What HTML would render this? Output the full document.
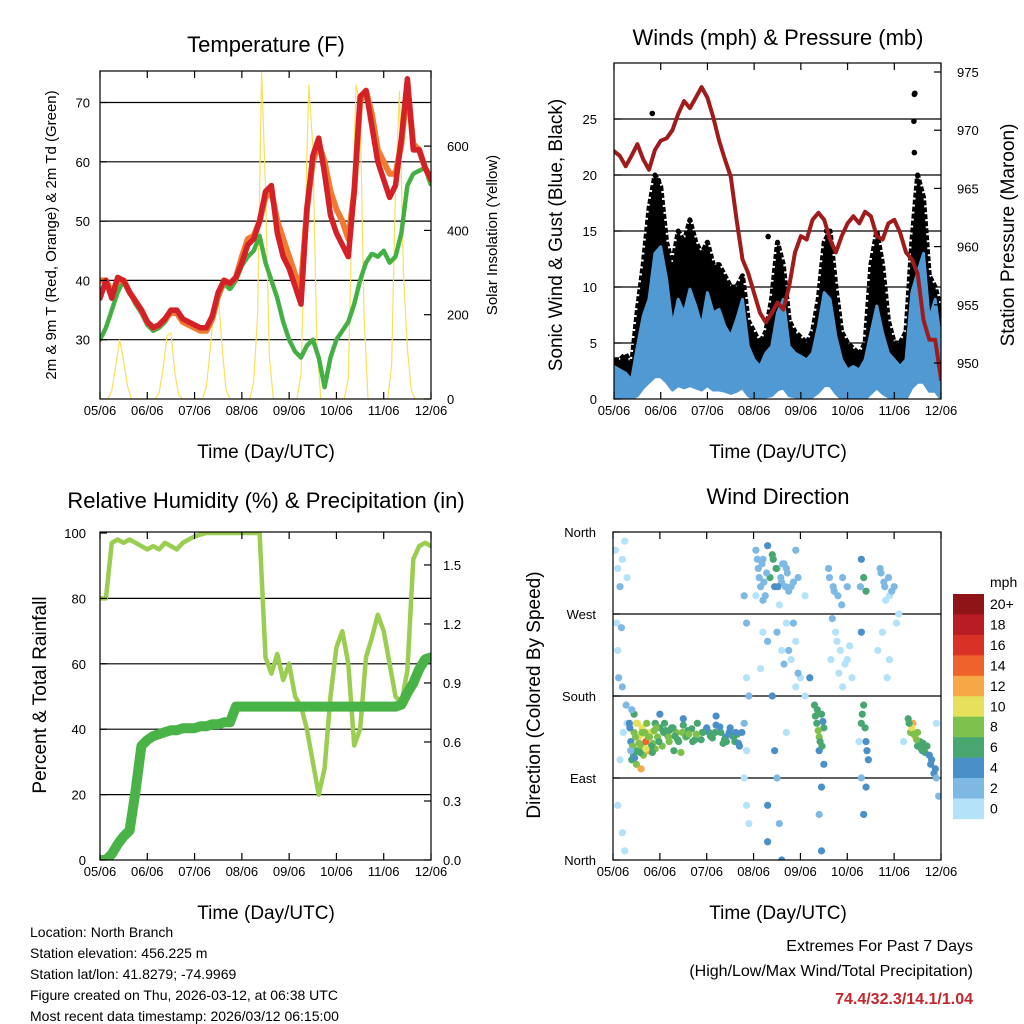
<!DOCTYPE html>
<html><head><meta charset="utf-8">
<style>
body{margin:0;background:#fff;}
svg{display:block;font-family:"Liberation Sans",sans-serif;}
</style></head>
<body>
<svg id="s" width="1024" height="1024" viewBox="0 0 1024 1024">
<rect width="1024" height="1024" fill="#fff"/>
<g id="marks"></g>
<g id="frame" fill="none" stroke="#000" stroke-width="1.2">
 <rect x="100" y="71" width="331" height="328"/>
 <rect x="614" y="63" width="327" height="336"/>
 <rect x="100" y="532" width="331" height="328"/>
 <rect x="613" y="532" width="328" height="328"/>
</g>
<g font-size="22" text-anchor="middle">
 <text x="266" y="52">Temperature (F)</text>
 <text x="778" y="45">Winds (mph) &amp; Pressure (mb)</text>
 <text x="266" y="508">Relative Humidity (%) &amp; Precipitation (in)</text>
 <text x="778" y="504">Wind Direction</text>
</g>
<g font-size="19" text-anchor="middle">
 <text x="266" y="458">Time (Day/UTC)</text>
 <text x="778" y="458">Time (Day/UTC)</text>
 <text x="266" y="919">Time (Day/UTC)</text>
 <text x="778" y="919">Time (Day/UTC)</text>
 <text transform="translate(562,235) rotate(-90)">Sonic Wind &amp; Gust (Blue, Black)</text>
 <text transform="translate(1014,235) rotate(-90)">Station Pressure (Maroon)</text>
 <text transform="translate(46,695) rotate(-90)">Percent &amp; Total Rainfall</text>
 <text transform="translate(540,695) rotate(-90)">Direction (Colored By Speed)</text>
</g>
<g font-size="15" text-anchor="middle">
 <text transform="translate(56,235) rotate(-90)">2m &amp; 9m T (Red, Orange) &amp; 2m Td (Green)</text>
 <text transform="translate(497,235) rotate(-90)">Solar Insolation (Yellow)</text>
</g>
<g id="ticks"></g>
<g font-size="14">
 <text x="30" y="937">Location: North Branch</text>
 <text x="30" y="958">Station elevation: 456.225 m</text>
 <text x="30" y="979">Station lat/lon: 41.8279; -74.9969</text>
 <text x="30" y="1000">Figure created on Thu, 2026-03-12, at 06:38 UTC</text>
 <text x="30" y="1021">Most recent data timestamp: 2026/03/12 06:15:00</text>
</g>
<g font-size="16" text-anchor="end">
 <text x="973" y="951">Extremes For Past 7 Days</text>
 <text x="973" y="976">(High/Low/Max Wind/Total Precipitation)</text>
 <text x="973" y="1004" fill="#c0282d" font-weight="bold">74.4/32.3/14.1/1.04</text>
</g>
</svg>
<script>
// ---- data (3-hourly unless noted) ----
const dayLabels=["05/06","06/06","07/06","08/06","09/06","10/06","11/06","12/06"];
const tempRed=[37,40,37,40.5,40,38,36.5,35,33,32,32.5,33.5,35,35,33.5,33,32.5,32,32,34,38,40,39.5,40.5,43,46,47,50,55,56,48,44,42,39,36,52,61,64,58,51,48,46,44,55,71,72,66,60,57,54,56,64,74,62,62,59,57];
const tempOrange=[40,40,38,40,40,38,36.5,35,33,32,32.5,33.5,34.5,34.5,33,32.5,32,31.5,31.5,33.5,37.5,40,39.5,40.5,44,47,47.5,50,54,55,50,47,44,41,39,52,60,63,60,55,52,50,47,55,70,72,68,62,60,58,58,63,73,63,62,59,57];
const dewGreen=[30,32,35,38,40,38,36,34.5,32.5,31.5,32,33,34.5,34.5,33,32.5,32,32,32,33.5,37,39.5,38.5,40,42.5,44,45,47.5,43,40,37,33,30,28,27,29,30,27,22,27,30,31.5,33,36,40,43,44.5,44,45,43,44,48,56,58,58.5,59,56];
// solar, 2-hourly
const solar=[0,0,0,20,80,140,90,30,0,0,0,0, 0,0,0,15,70,150,157,60,10,0,0,0, 0,0,0,30,120,230,250,120,20,0,0,0, 0,0,0,40,200,778,500,100,0,0,0,0, 0,0,0,60,400,745,600,150,0,0,0,0, 0,0,0,50,450,745,700,200,0,0,0,0, 0,0,80,500,730,300,120,20,0,0,0,0, 0];
const windHi=[2.9,2.6,2.3,1.7,4.7,7.4,8.9,13,13.6,10.7,6.5,8.9,7.7,9.8,8.3,6.5,9.5,7.7,8,6.5,5.6,7.1,8.9,4.7,3.5,2.9,4.1,4.7,7.7,8.9,4.7,4.1,3.8,3.5,4.1,6.5,9.5,8.9,5.6,3.5,2.6,2.9,2.6,3.5,5.9,8.3,5.9,4.1,3.5,2.9,3.5,9.5,11.3,13,7.1,8.9,5];
const windLo=[0,0,0,0,0.3,1,1.5,2,2,1.5,0.8,1.2,1,1.2,1,0.8,1.2,0.8,0.8,0.7,0.5,0.7,1,0.3,0,0,0.2,0.3,0.8,1,0.3,0.2,0,0,0.2,0.6,1.2,1.2,0.5,0,0,0,0,0,0.5,1,0.5,0.2,0,0,0,1,1.5,1.5,0.7,0.7,0];
const gust=[3.5,3.5,4,3,8,12,17,20,19,14,12,15,14,16,14,13,14,12,12,11,10,10,11,7,6,5,6,9,14,12,7,6,5.5,5,6,9,14,15,10,6,5,4.5,4,5,12,15,12,7,5,5,6,14,20,18,11,10,8];
const gustOutDay=[0.82,6.43,6.44,6.42,6.43,0.95,3.3,4.55];
const gustOutVal=[25.5,27.2,27.3,24.8,22,19.5,14.5,15];
const pressure=[968.2,967.8,966.9,967.8,968.8,967.5,966.6,968.3,969.1,969.3,970,971.4,972.5,971.9,972.8,973.7,972.8,971.1,969.1,967.5,966,962.3,958.9,957.7,956,954.3,953.5,954.3,955.2,954.6,956.6,959.5,960.9,960.6,962.3,962.9,962.3,960.6,959.5,960.9,962,962.6,962,963,962.6,960.9,960.6,962,962.3,961.2,959.5,958.9,957.7,953.7,952,952,948.6];
const rh=[80,80,97,98,97,98,97,96,95,96,95,97,96,95,97,98,99,99.5,100,100,100,100,100,100,100,100,100,100,62,57,63,55,60,50,47,40,30,20,28,50,65,70,60,35,40,62,68,75,70,60,50,48,58,92,96,97,96];
const precip=[0,0,0.03,0.08,0.12,0.15,0.35,0.58,0.61,0.63,0.64,0.65,0.66,0.66,0.67,0.67,0.67,0.68,0.68,0.69,0.69,0.7,0.7,0.78,0.78,0.78,0.78,0.78,0.78,0.78,0.78,0.78,0.78,0.78,0.78,0.78,0.78,0.78,0.78,0.78,0.78,0.78,0.78,0.78,0.78,0.78,0.78,0.78,0.78,0.78,0.78,0.79,0.85,0.9,0.97,1.02,1.03];
// wind direction scatter: day, degrees, mph
const dirDay=[0.05,0.1,0.15,0.2,0.25,0.08,0.1,0.12,0.2,0.22,0.15,0.1,0.2,0.25,0.18,0.3,0.3,0.28,
0.35,0.38,0.4,0.45,0.5,0.55,0.6,0.62,0.65,0.7,0.72,0.75,0.8,0.85,0.9,0.95,1.0,1.05,1.1,1.15,1.2,1.25,1.3,1.35,1.4,1.5,1.55,1.6,1.7,1.8,1.9,2.0,2.1,2.2,2.3,2.4,2.5,2.6,2.65,2.7,0.5,0.6,0.45,1.0,1.5,2.2,0.4,0.55,0.65,0.9,1.2,1.45,1.75,2.05,2.35,2.55,
0.36,0.42,0.48,0.52,0.58,0.68,0.78,0.82,0.88,0.98,1.08,1.18,1.28,1.38,1.48,1.58,1.68,1.78,1.88,1.98,2.08,2.18,2.28,2.38,2.48,2.58,2.68,2.75,0.44,0.5,0.56,0.62,0.7,0.76,0.84,0.92,1.12,1.32,1.62,1.92,2.12,2.42,2.62,0.38,0.46,
2.8,2.85,2.85,2.9,2.8,2.85,2.8,2.85,2.9,
3.05,3.1,3.15,3.2,3.3,3.35,3.4,3.45,3.5,3.6,3.7,3.8,3.55,3.7,3.9,3.8,4.0,3.6,3.2,3.15,3.4,3.45,3.5,3.55,3.6,3.3,3.3,3.7,3.9,3.95,3.9,3.25,3.65,
3.08,3.12,3.18,3.22,3.28,3.42,3.48,3.52,3.58,3.62,3.68,3.72,3.75,3.85,3.05,3.2,3.3,3.5,3.65,3.75,3.85,3.95,
4.3,4.35,4.4,4.45,4.4,4.5,4.5,4.45,4.4,4.45,4.2,4.1,4.1,4.32,4.38,4.42,4.48,4.36,4.46,
4.6,4.7,4.8,4.9,4.75,4.85,5.0,5.1,4.9,5.0,4.65,4.62,4.72,4.78,4.82,4.95,5.05,4.68,4.88,
5.3,5.35,5.4,5.3,5.35,5.3,5.4,5.45,5.3,5.35,5.4,5.25,5.32,5.38,5.42,5.28,
5.7,5.8,5.9,5.75,5.9,6.0,5.85,6.1,5.72,5.78,5.82,5.88,5.95,5.65,6.05,
6.3,6.35,6.4,6.45,6.5,6.55,6.6,6.7,6.8,6.85,6.9,6.5,6.2,6.9,6.95,6.38,6.62,6.32,6.42,6.48,6.58,6.66,6.75,6.78,6.88];
const dirDeg=[340,320,300,330,350,260,230,200,190,140,110,60,30,10,255,310,150,170,
150,130,110,140,120,135,125,145,115,130,150,120,140,128,150,135,145,125,150,138,130,145,120,140,130,148,135,142,130,150,140,145,138,148,140,135,145,130,138,125,105,100,160,160,155,158,165,128,138,122,142,118,132,140,128,136,
145,125,135,150,118,140,135,125,142,130,140,135,145,132,140,136,144,138,132,142,136,140,146,132,140,136,128,140,115,150,128,140,122,135,118,145,142,136,138,140,134,130,140,120,112,
290,260,200,180,150,120,90,60,40,
340,320,300,330,345,310,335,300,320,305,320,300,280,260,240,220,200,230,250,210,180,120,90,40,0,60,20,140,190,310,340,290,325,
330,310,325,305,315,330,320,300,310,325,300,315,295,305,290,285,240,250,215,230,260,205,
170,150,135,160,120,145,105,80,50,10,200,290,180,158,142,130,152,165,125,
320,300,290,310,250,230,220,200,190,300,220,310,295,240,205,215,235,265,280,
330,310,295,250,170,150,130,110,90,50,80,130,160,145,120,300,
320,300,290,250,220,300,200,270,315,305,285,310,295,230,260,
155,140,150,135,125,130,120,125,110,95,90,140,130,150,70,145,128,150,138,132,122,118,115,105,100];
const dirSpd=[1,1,2,1,1,1,1,2,2,1,1,1,1,1,3,1,1,2,
4,5,6,8,7,10,9,11,8,14,9,12,10,8,7,9,6,8,6,7,8,6,7,8,6,7,8,6,7,6,8,5,6,5,6,5,4,7,6,5,9,12,6,4,4,4,3,12,10,9,7,8,6,7,6,5,
5,8,9,10,7,8,9,6,8,7,6,8,7,6,8,7,6,8,7,5,6,7,5,6,4,6,5,4,7,11,8,9,10,8,7,9,7,6,8,6,7,6,5,3,4,
2,3,1,2,2,1,1,1,1,
2,2,3,2,4,6,6,4,3,2,3,2,1,1,0,0,0,1,1,1,4,4,3,3,4,4,4,1,1,2,2,3,2,
2,2,3,2,3,6,7,4,3,2,3,2,2,3,1,2,2,3,2,3,2,3,
6,7,8,6,5,6,4,4,3,4,4,1,1,7,8,6,5,6,7,
2,2,2,3,0,0,0,1,0,2,1,2,3,0,1,0,0,2,2,
4,7,6,4,6,7,5,4,3,4,4,1,6,7,5,3,
2,2,1,1,1,2,1,1,2,2,1,2,2,1,1,
6,8,12,10,7,6,5,6,4,4,3,9,0,1,2,11,7,6,8,9,7,6,5,4,4];
const cbLabels=["20+","18","16","14","12","10","8","6","4","2","0"];
const cbColors=["#8e1418","#b91c24","#da3127","#f0622b","#f6a847","#e6e05a","#7dc14c","#48a670","#4a8fc8","#7eb9e4","#b4e2f8"];
const tempTicks=[30,40,50,60,70], solarTicks=[0,200,400,600];
const windTicks=[0,5,10,15,20,25], presTicks=[950,955,960,965,970,975];
const rhTicks=[0,20,40,60,80,100], prTicks=[0,0.3,0.6,0.9,1.2,1.5];
const dirTickLabels=["North","East","South","West","North"], dirTickVals=[0,90,180,270,360];

// ---- scales ----
const NS="http://www.w3.org/2000/svg";
const marks=document.getElementById('marks'), ticks=document.getElementById('ticks');
function mk(tag,attrs,parent){const e=document.createElementNS(NS,tag);for(const k in attrs)e.setAttribute(k,attrs[k]);(parent||marks).appendChild(e);return e;}
const P1={x0:100,x1:431}, P2={x0:614,x1:941}, P3={x0:100,x1:431}, P4={x0:613,x1:941};
const tx=(P,d)=>P.x0+d*(P.x1-P.x0)/7;
const yTemp=v=>399-(v-20)*5.93, ySolar=v=>399-v*0.4215;
const yWind=v=>399-v*11.2, yPres=v=>363-(v-950)*11.64;
const yRH=v=>860-v*3.27, yPr=v=>860-v*196.7;
const yDir=v=>860-v*328/360;
function pts(P,arr,step,ys){return arr.map((v,i)=>tx(P,i*step/24).toFixed(1)+','+ys(v).toFixed(1)).join(' ');}
function line(P,arr,step,ys,color,w,name,dash){const e=mk('polyline',{points:pts(P,arr,step,ys),fill:'none',stroke:color,'stroke-width':w,'stroke-linejoin':'round','stroke-linecap':'round'});if(dash)e.setAttribute('stroke-dasharray',dash);

return e;}
function clip(id,x,y,w,h){const c=mk('clipPath',{id:id});mk('rect',{x:x,y:y,width:w,height:h},c);}
clip('c1',100,71,331,328);clip('c2',614,63,327,336);clip('c3',100,532,331,328);clip('c4',613,532,328,328);

function hgrid(x0,x1,vals,ys,name,color){vals.forEach(v=>{const e=mk('line',{x1:x0,x2:x1,y1:ys(v),y2:ys(v),stroke:color||'#000','stroke-width':1.2});

});}
hgrid(100,431,tempTicks,yTemp,'temperature-gridline');
hgrid(614,941,windTicks.slice(1),yWind,'wind-gridline');
hgrid(100,431,rhTicks.slice(1,5),yRH,'humidity-gridline');
hgrid(613,941,[90,180,270],yDir,'direction-gridline');

// panel 1
let g1=mk('g',{'clip-path':'url(#c1)'});
g1.appendChild(line(P1,solar,2,ySolar,'#f7e15a',1.2,'solar-line'));
g1.appendChild(line(P1,dewGreen,3,yTemp,'#44b044',4.5,'dewpoint-line','3 1.5'));
g1.appendChild(line(P1,tempOrange,3,yTemp,'#f07a30',6,'temp-9m-line'));
g1.appendChild(line(P1,tempRed,3,yTemp,'#d42027',5.5,'temp-2m-line'));

// panel 2
let g2=mk('g',{'clip-path':'url(#c2)'});
let gp=gust.map((v,i)=>tx(P2,i*3/24).toFixed(1)+','+yWind(v).toFixed(1)).join(' ')+' '+windHi.map((v,i)=>tx(P2,i*3/24).toFixed(1)+','+yWind(v).toFixed(1)).reverse().join(' ');
let e=mk('polygon',{points:gp,fill:'#000',stroke:'#000','stroke-width':5,'stroke-linejoin':'round','stroke-dasharray':'5 2'},g2);


gustOutDay.forEach((d,i)=>{const c=mk('circle',{cx:tx(P2,d),cy:yWind(gustOutVal[i]),r:2.8,fill:'#000'},g2);

});
let bp=windHi.map((v,i)=>tx(P2,i*3/24).toFixed(1)+','+yWind(v).toFixed(1)).join(' ')+' '+windLo.map((v,i)=>tx(P2,i*3/24).toFixed(1)+','+yWind(v).toFixed(1)).reverse().join(' ');
e=mk('polygon',{points:bp,fill:'#5199d3',stroke:'#5199d3','stroke-width':3,'stroke-linejoin':'round'},g2);


g2.appendChild(line(P2,pressure,3,yPres,'#a01c1c',4,'pressure-line'));

// panel 3
let g3=mk('g',{'clip-path':'url(#c3)'});
g3.appendChild(line(P3,rh,3,yRH,'#9acd50',4.5,'humidity-line'));
g3.appendChild(line(P3,precip,3,yPr,'#4ab348',10,'precip-line'));

// panel 4
let g4=mk('g',{'clip-path':'url(#c4)'});
dirDay.forEach((d,i)=>{const sp=dirSpd[i];const idx=10-Math.min(10,Math.floor(sp/2));
const c=mk('circle',{cx:tx(P4,d),cy:yDir(dirDeg[i]),r:3.6,fill:cbColors[idx]},g4);

});
cbLabels.forEach((l,i)=>{const y=594+i*20.45;
const r=mk('rect',{x:953,y:y,width:31,height:20.7,fill:cbColors[i]});


const t=mk('text',{x:990,y:y+15,'font-size':14});t.textContent=l;

});
e=mk('text',{x:990,y:587,'font-size':14});e.textContent='mph';



function xt(P,yb,yt){dayLabels.forEach((l,i)=>{const x=tx(P,i);
mk('line',{x1:x,x2:x,y1:yb,y2:yb-7,stroke:'#000','stroke-width':1.2},ticks);
mk('line',{x1:x,x2:x,y1:yt,y2:yt+7,stroke:'#000','stroke-width':1.2},ticks);
const t=mk('text',{x:x,y:yb+16,'font-size':13,'text-anchor':'middle'},ticks);t.textContent=l;

});}
xt(P1,399,71);xt(P2,399,63);xt(P3,860,532);xt(P4,860,532);
function yt(vals,ys,x,anchor,tx0,dir,fmt){vals.forEach(v=>{const y=ys(v);
mk('line',{x1:tx0,x2:tx0+dir*7,y1:y,y2:y,stroke:'#000','stroke-width':1.2},ticks);
const t=mk('text',{x:x,y:y+5,'font-size':13,'text-anchor':anchor},ticks);t.textContent=fmt?fmt(v):v;

});}
yt(tempTicks,yTemp,90,'end',100,1);
yt(solarTicks,ySolar,447,'start',431,-1);
yt(windTicks,yWind,597,'end',614,1);
yt(presTicks,yPres,957,'start',941,-1);
yt(rhTicks,yRH,86,'end',100,1);
yt(prTicks,yPr,443,'start',431,-1,v=>v.toFixed(1));
dirTickVals.forEach((v,i)=>{const y=yDir(v);
mk('line',{x1:613,x2:620,y1:y,y2:y,stroke:'#000','stroke-width':1.2},ticks);
const t=mk('text',{x:596,y:y+5,'font-size':13,'text-anchor':'end'},ticks);t.textContent=dirTickLabels[i];

});
</script>
</body></html>
